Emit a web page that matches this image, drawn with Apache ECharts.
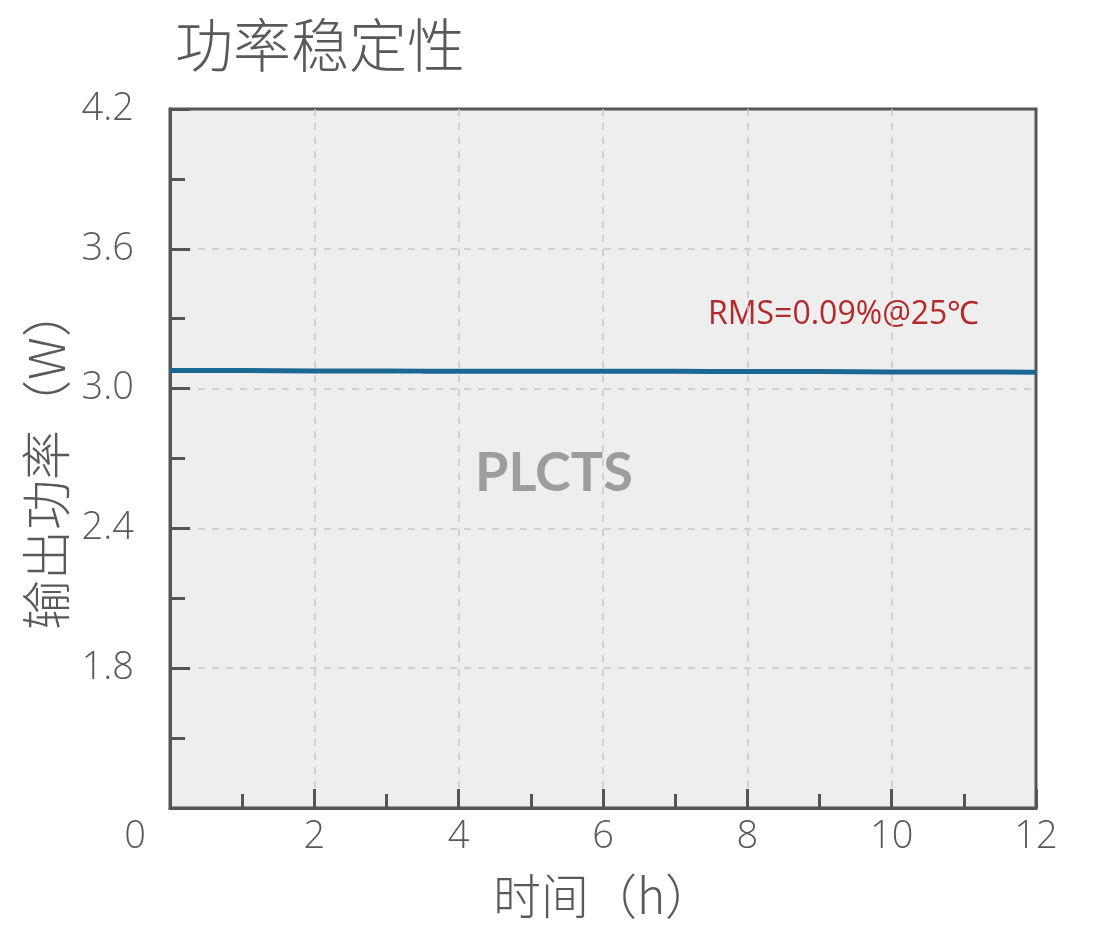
<!DOCTYPE html>
<html>
<head>
<meta charset="utf-8">
<script src="https://cdn.jsdelivr.net/npm/echarts@6/dist/echarts.min.js"></script>
<style>html,body{margin:0;padding:0;background:#fff}#c{width:1096px;height:943px}</style>
</head>
<body>
<div id="c"></div>
<script>
var titleText = '功率稳定性';
var xName = '时间（h）';
var yName = '输出功率（W）';
var annotation = 'RMS=0.09%@25℃';
var watermark = 'PLCTS';
var timeHours = [0,0.5,1,1.5,2,2.5,3,3.5,4,4.5,5,5.5,6,6.5,7,7.5,8,8.5,9,9.5,10,10.5,11,11.5,12];
var powerW = [3.078,3.078,3.078,3.077,3.076,3.076,3.076,3.075,3.075,3.075,3.075,3.075,3.075,3.074,3.074,3.073,3.073,3.073,3.073,3.072,3.071,3.071,3.071,3.071,3.070];
var yTicks = [1.2,1.8,2.4,3.0,3.6,4.2];
var xTicks = [0,2,4,6,8,10,12];

var chart = echarts.init(document.getElementById('c'));
var txt = '#595959';
var gridLine = {show: true, showMinLine: false, showMaxLine: false, lineStyle: {color: '#c8c8c8', type: [7, 7], width: 1.5}};
chart.setOption({
  animation: false,
  backgroundColor: '#fff',
  title: {
    text: titleText, left: 170, top: 11,
    textStyle: {fontFamily: 'Noto Sans CJK SC', fontWeight: 300, fontSize: 58, color: txt}
  },
  grid: {
    left: 170, right: 60, top: 109, bottom: 135,
    show: true, backgroundColor: '#eeeeee', borderColor: '#555', borderWidth: 3
  },
  xAxis: {
    type: 'value', min: xTicks[0], max: xTicks[xTicks.length-1], interval: 2,
    name: xName, nameLocation: 'middle', nameGap: 64,
    nameTextStyle: {fontFamily: 'Noto Sans CJK SC', fontWeight: 300, fontSize: 48, color: txt},
    axisLine: {show: true, lineStyle: {color: '#555', width: 3}},
    axisTick: {show: true, inside: true, length: 19, lineStyle: {color: '#555', width: 3}},
    minorTick: {show: true, splitNumber: 2, length: 14, lineStyle: {color: '#555', width: 3}},
    splitLine: gridLine,
    axisLabel: {
      margin: 10, fontFamily: 'Open Sans', fontWeight: 300, fontSize: 38, color: txt,
      formatter: function (v) { return v === 0 ? '{z|0}' : String(v); },
      rich: {z: {fontFamily: 'Open Sans', fontWeight: 300, fontSize: 38, color: txt, padding: [0, 70, 0, 0]}}
    }
  },
  yAxis: {
    type: 'value', min: yTicks[0], max: yTicks[yTicks.length-1], interval: 0.6,
    name: yName, nameLocation: 'middle', nameGap: 96, nameRotate: 90,
    nameTextStyle: {fontFamily: 'Noto Sans CJK SC', fontWeight: 300, fontSize: 50, color: txt},
    axisLine: {show: true, lineStyle: {color: '#555', width: 3}},
    axisTick: {show: true, inside: true, length: 20, lineStyle: {color: '#555', width: 3}},
    minorTick: {show: true, splitNumber: 2, length: 15, lineStyle: {color: '#555', width: 3}},
    splitLine: gridLine,
    axisLabel: {
      margin: 36, fontFamily: 'Open Sans', fontWeight: 300, fontSize: 38, color: txt,
      formatter: function (v) { return Math.abs(v - yTicks[0]) < 1e-6 ? '' : v.toFixed(1); }
    }
  },
  graphic: [
    {type: 'text', left: 708, top: 299, silent: true,
     style: {text: annotation, fontFamily: 'Open Sans', fontSize: 32, fill: '#b32a2a'}},
    {type: 'text', left: 475, top: 447, silent: true, z: 1,
     style: {text: watermark, fontFamily: 'Lato', fontWeight: 'bold', fontSize: 54, fill: '#9d9d9d'}}
  ],
  series: [{
    type: 'line', showSymbol: false, smooth: false,
    data: timeHours.map(function (t, i) { return [t, powerW[i]]; }),
    lineStyle: {color: '#1a6892', width: 5},
    z: 3
  }]
});
</script>
</body>
</html>
